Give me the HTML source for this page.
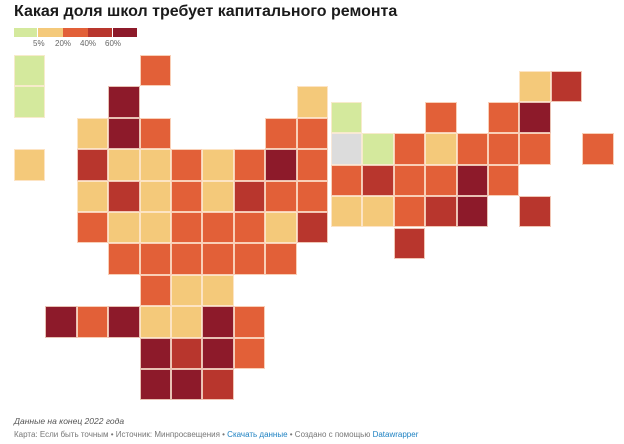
<!DOCTYPE html>
<html><head><meta charset="utf-8"><style>
body{margin:0;width:624px;height:444px;background:#fff;position:relative;overflow:hidden;font-family:"Liberation Sans","DejaVu Sans",sans-serif}
.c{position:absolute;width:31.4px;height:31.4px;box-sizing:border-box;border:0.8px solid rgba(255,235,215,0.8)}
.t{position:absolute;white-space:nowrap}
</style></head><body>
<div class="t" style="left:14px;top:3px;font-size:16px;font-weight:bold;color:#1a1a1a">Какая доля школ требует капитального ремонта</div>
<div style="position:absolute;left:14px;top:28px;width:23px;height:9px;background:#d4e99d"></div>
<div style="position:absolute;left:38px;top:28px;width:25px;height:9px;background:#f4c97a"></div>
<div style="position:absolute;left:63px;top:28px;width:25px;height:9px;background:#e26038"></div>
<div style="position:absolute;left:88px;top:28px;width:24px;height:9px;background:#b8362d"></div>
<div style="position:absolute;left:113px;top:28px;width:24px;height:9px;background:#8d1a2a"></div>
<div class="t" style="left:33px;top:39px;font-size:8px;color:#666">5%</div>
<div class="t" style="left:55px;top:39px;font-size:8px;color:#666">20%</div>
<div class="t" style="left:80px;top:39px;font-size:8px;color:#666">40%</div>
<div class="t" style="left:105px;top:39px;font-size:8px;color:#666">60%</div>
<div id="m"></div>
<div class="t" style="left:14px;top:416px;font-size:8.5px;font-style:italic;color:#555">Данные на конец 2022 года</div>
<div class="t" style="left:14px;top:430px;font-size:8px;color:#777">Карта: Если быть точным • Источник: Минпросвещения • <span style="color:#1d81c2">Скачать данные</span> • Создано с помощью <span style="color:#1d81c2">Datawrapper</span></div>
<script>
var C={L:"#d4e99d",Y:"#f4c97a",O:"#e26038",R:"#b8362d",D:"#8d1a2a",G:"#dcdcdc"};
var left=[
"L...O.....",
"L..D.....Y",
"..YDO...OO",
"Y.RYYOYODO",
"..YRYOYROO",
"..OYYOOOYR",
"...OOOOOO.",
"....OYY...",
".DODYYDO..",
"....DRDO..",
"....DDR..."];
var right=[
"......YR.",
"L..O.OD..",
"GLOYOOO.O",
"OROODO...",
"YYORD.R..",
"..R......"];
var h="",s=31.4;
function draw(g,x0,y0){g.forEach(function(r,i){for(var j=0;j<r.length;j++){var k=r[j];if(C[k])h+='<div class="c" style="left:'+(x0+j*s).toFixed(1)+'px;top:'+(y0+i*s).toFixed(1)+'px;background:'+C[k]+'"></div>';}});}
draw(left,14,55);draw(right,331,70.5);
document.getElementById("m").innerHTML=h;
</script>
</body></html>
